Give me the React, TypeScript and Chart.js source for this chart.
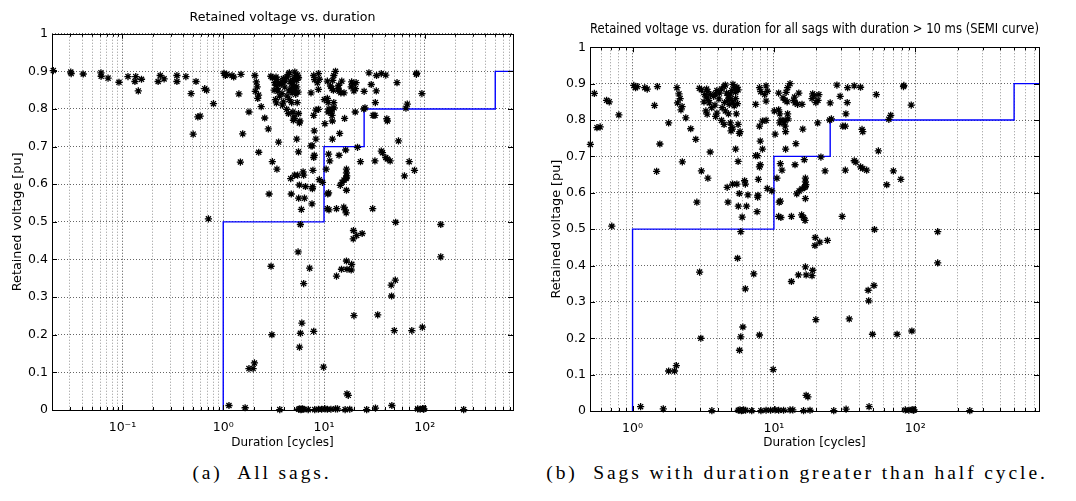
import React, { useEffect, useRef } from 'react';
import { Chart, registerables } from 'chart.js';

Chart.register(...registerables);

// Sag durations (cycles) and retained voltages (pu)
const DURATIONS = [
  0.0206, 0.0307, 0.031, 0.0408, 0.0612, 0.0615, 0.072, 0.0924, 0.1135, 0.1355,
  0.133, 0.1436, 0.1545, 0.226, 0.237, 0.259, 0.347, 0.347, 0.426, 0.48,
  0.537, 0.655, 0.684, 0.8, 0.56, 0.59, 0.503, 0.713, 1.02, 1.05,
  1.08, 1.22, 1.27, 1.5, 1.43, 1.8, 1.56, 1.48, 2.06, 2.13,
  2.17, 2.08, 2.24, 2.2, 2.38, 2.58, 2.8, 2.25, 3.07, 3.41,
  3.54,
  2.97, 3.07, 3.34, 3.41, 3.24, 3.34, 3.56, 3.45, 3.2, 3.49,
  3.75, 3.87, 3.95, 4.12, 4.26, 4.44, 4.53, 4.63, 4.77, 4.92,
  5.03, 5.13, 5.24, 5.36, 5.47, 5.58, 4.97, 4.72, 4.48, 4.83,
  5.13, 5.36, 5.24, 5.52, 4.08, 3.83, 3.63, 3.3, 3.37, 3.95,
  3.87, 4.77, 5.42, 4.3, 4.53,
  4.26, 4.44, 4.92, 5.03, 4.97, 5.08, 5.58, 5.76, 5.7, 5.36,
  5.58, 4.67, 5.1, 5.47, 6.2, 6.28,
  7.43, 7.91, 8.07, 8.8, 8.98, 8.6, 8.8, 8.3, 8.8, 7.9,
  8.0, 8.3, 7.43, 7.65, 8.0, 7.9, 7.76, 8.98,
  13.0, 12.5, 12.2, 10.8, 11.6, 12.0, 12.4, 14.0, 13.8, 14.1,
  15.0, 14.7, 15.8, 18.8, 19.2, 18.6, 20.8, 19.8, 20.5, 25.0,
  27.9, 29.4, 33.2, 37.0, 41.0, 33.0, 32.3, 53.0, 82.5, 83.0,
  93.6, 10.07, 10.8, 11.0, 12.5, 11.2, 11.0, 12.0, 11.8, 12.6,
  12.0, 12.1, 10.2, 16.0, 20.4, 24.8, 25.5, 30.7, 32.0, 42.0,
  42.5, 14.3, 12.1, 16.4, 21.5, 23.0, 14.1, 11.1, 11.4, 10.5,
  37.0, 38.0, 41.0, 42.5, 45.3, 32.0, 54.8, 70.0, 67.0, 65.0,
  79.0, 62.8, 16.7, 16.7, 16.8, 16.5,
  6.55, 7.67, 2.85, 4.73, 5.6, 6.4, 7.6, 5.96, 5.83, 5.53,
  2.98, 7.2, 6.28, 5.69, 7.7,
  9.66, 14.5, 15.1, 15.8, 16.7, 16.7, 11.1, 10.9, 10.8, 11.2,
  13.3, 15.7, 16.2, 16.6, 30.4, 51.4, 144, 19.6, 21.1, 19.5,
  23.9, 16.7, 14.9, 16.9, 18.6, 18.8, 13.3, 51.0, 46.4, 46.8,
  144,
  19.8, 34.1, 49.8, 74.3, 94.6, 6.03, 5.83, 5.71, 7.9, 3.04,
  1.8, 1.98, 2.04, 9.88, 16.9, 17.4, 1.14, 1.65, 3.64,
  5.6, 5.75, 5.9, 6.0, 6.1, 6.3, 6.97, 8.09, 8.8, 9.47,
  10.2, 10.8, 11.7, 13.0, 13.6, 16.2, 18.0, 26.5, 32.4, 47.1,
  85, 90, 95, 97, 98, 243,
];

const VOLTAGES = [
  0.902, 0.898, 0.894, 0.893, 0.896, 0.887, 0.882, 0.871, 0.886, 0.886,
  0.873, 0.848, 0.879, 0.873, 0.889, 0.88, 0.889, 0.873, 0.886, 0.841,
  0.873, 0.854, 0.85, 0.814, 0.779, 0.781, 0.733, 0.508, 0.895, 0.889,
  0.892, 0.889, 0.885, 0.892, 0.84, 0.792, 0.734, 0.659, 0.889, 0.872,
  0.859, 0.847, 0.837, 0.828, 0.806, 0.776, 0.747, 0.685, 0.66, 0.64,
  0.712,
  0.887, 0.883, 0.885, 0.878, 0.87, 0.863, 0.87, 0.854, 0.85, 0.847,
  0.865, 0.872, 0.881, 0.874, 0.885, 0.892, 0.896, 0.874, 0.867, 0.872,
  0.881, 0.898, 0.889, 0.876, 0.89, 0.883, 0.859, 0.854, 0.848, 0.843,
  0.85, 0.859, 0.839, 0.845, 0.858, 0.841, 0.834, 0.825, 0.816, 0.819,
  0.81, 0.817, 0.817, 0.834, 0.825,
  0.799, 0.788, 0.792, 0.779, 0.77, 0.775, 0.788, 0.768, 0.763, 0.72,
  0.686, 0.615, 0.624, 0.624, 0.633, 0.624,
  0.843, 0.889, 0.878, 0.894, 0.879, 0.87, 0.852, 0.797, 0.799, 0.783,
  0.742, 0.72, 0.702, 0.702, 0.677, 0.671, 0.637, 0.612,
  0.9, 0.889, 0.876, 0.874, 0.861, 0.854, 0.85, 0.863, 0.854, 0.847,
  0.874, 0.843, 0.843, 0.872, 0.867, 0.859, 0.87, 0.848, 0.854, 0.847,
  0.896, 0.865, 0.889, 0.894, 0.89, 0.848, 0.817, 0.87, 0.892, 0.895,
  0.841, 0.825, 0.828, 0.817, 0.817, 0.8, 0.792, 0.8, 0.792, 0.803,
  0.783, 0.768, 0.761, 0.775, 0.792, 0.8, 0.803, 0.783, 0.783, 0.774,
  0.768, 0.735, 0.72, 0.691, 0.698, 0.66, 0.677, 0.68, 0.662, 0.64,
  0.688, 0.684, 0.671, 0.667, 0.662, 0.662, 0.715, 0.66, 0.813, 0.802,
  0.637, 0.622, 0.64, 0.63, 0.622, 0.615,
  0.594, 0.588, 0.574, 0.574, 0.563, 0.563, 0.548, 0.533, 0.493, 0.42,
  0.382, 0.377, 0.336, 0.598, 0.593,
  0.605, 0.597, 0.605, 0.611, 0.617, 0.584, 0.577, 0.574, 0.535, 0.532,
  0.535, 0.539, 0.532, 0.524, 0.535, 0.499, 0.493, 0.477, 0.464, 0.455,
  0.469, 0.396, 0.374, 0.374, 0.372, 0.387, 0.356, 0.345, 0.332, 0.303,
  0.407,
  0.251, 0.253, 0.211, 0.211, 0.22, 0.231, 0.204, 0.167, 0.209, 0.2,
  0.11, 0.11, 0.125, 0.114, 0.043, 0.039, 0.012, 0.006, 0.001,
  0.002, 0.003, 0.001, 0.002, 0.003, 0.002, 0.001, 0.001, 0.002, 0.002,
  0.003, 0.002, 0.002, 0.003, 0.003, 0.001, 0.002, 0.001, 0.005, 0.012,
  0.003, 0.002, 0.004, 0.002, 0.003, 0.001,
];

// SEMI curve breakpoints (cycles) and levels (pu)
const SEMI_DURATIONS = [1, 10, 25, 500, 750];
const SEMI_VOLTAGES = [0, 0.5, 0.7, 0.8, 0.9];

// axis ticks
const X_MAJOR = [0.1, 1, 10, 100];
const X_MAJOR_LABELS = ['10\u207B\u00B9', '10\u2070', '10\u00B9', '10\u00B2'];
const Y_TICK_LABELS = ['0', '0.1', '0.2', '0.3', '0.4', '0.5', '0.6', '0.7', '0.8', '0.9', '1'];

const TITLE_A = 'Retained voltage vs. duration';
const TITLE_B = 'Retained voltage vs. duration for all sags with duration > 10 ms (SEMI curve)';
const X_TITLE = 'Duration [cycles]';
const Y_TITLE = 'Retained voltage [pu]';
const CAPTION_A = '(a)  All sags.';
const CAPTION_B = '(b)  Sags with duration greater than half cycle.';

const FONT = "'DejaVu Sans', 'Liberation Sans', sans-serif";

function isMajor(v: number) {
  const l = Math.log10(v);
  return Math.abs(l - Math.round(l)) < 1e-6;
}

function logTickValues(min: number, max: number) {
  const out: number[] = [];
  for (let e = -3; e <= 3; e++) {
    for (let m = 1; m <= 9; m++) {
      const v = Number((m * Math.pow(10, e)).toPrecision(6));
      if (v > min * 1.0001 && v < max * 0.9999) out.push(v);
    }
  }
  return out;
}

const frameTicks = {
  id: 'frameTicks',
  afterDraw(chart: any) {
    const { ctx, chartArea: a, scales } = chart;
    const xs = scales.x;
    const ys = scales.y;
    ctx.save();
    ctx.strokeStyle = '#000';
    ctx.lineWidth = 1;
    ctx.beginPath();
    xs.ticks.forEach((t: any) => {
      const px = Math.round(xs.getPixelForValue(t.value)) + 0.5;
      const len = isMajor(t.value) ? 5 : 3;
      ctx.moveTo(px, a.bottom);
      ctx.lineTo(px, a.bottom - len);
      ctx.moveTo(px, a.top);
      ctx.lineTo(px, a.top + len);
    });
    ys.ticks.forEach((t: any) => {
      const py = Math.round(ys.getPixelForValue(t.value)) + 0.5;
      ctx.moveTo(a.left, py);
      ctx.lineTo(a.left + 5, py);
      ctx.moveTo(a.right, py);
      ctx.lineTo(a.right - 5, py);
    });
    ctx.stroke();
    ctx.strokeRect(Math.round(a.left) + 0.5, Math.round(a.top) + 0.5,
      Math.round(a.right - a.left), Math.round(a.bottom - a.top));
    ctx.restore();
  },
};

interface Panel {
  title: string;
  titleSize: number;
  xMin: number;
  xMax: number;
  yWidth: number;
  yTitlePad: number;
  padRight: number;
  padBottom: number;
  xHeight: number;
  titleTop: number;
  titleBottom: number;
}

const PANEL_A: Panel = {
  title: TITLE_A, titleSize: 12.6, xMin: 0.02, xMax: 750, yWidth: 52, yTitlePad: 10,
  padRight: 23, padBottom: 10, xHeight: 40, titleTop: 10.4, titleBottom: 8.2,
};
const PANEL_B: Panel = {
  title: TITLE_B, titleSize: 13.3, xMin: 0.5, xMax: 750, yWidth: 54, yTitlePad: 12.5,
  padRight: 37, padBottom: 10, xHeight: 39, titleTop: 22, titleBottom: 9.3,
};

function buildChart(canvas: HTMLCanvasElement, p: Panel) {
  const pts = DURATIONS.map((d, i) => ({ x: d, y: VOLTAGES[i] })).filter((pt) => pt.x >= p.xMin);
  const semi = SEMI_DURATIONS.map((d, i) => ({ x: d, y: SEMI_VOLTAGES[i] }));
  const tickVals = logTickValues(p.xMin, p.xMax);
  const gridColor = (c: any) => (c.tick && isMajor(c.tick.value) ? 'rgba(0,0,0,0.7)' : 'rgba(0,0,0,0.42)');
  return new Chart(canvas, {
    type: 'scatter',
    data: {
      datasets: [
        {
          label: 'Sags',
          data: pts,
          pointStyle: 'star',
          pointRadius: 3.6,
          pointHoverRadius: 3.6,
          pointBorderColor: '#000',
          pointBackgroundColor: '#000',
          pointBorderWidth: 1.3,
          showLine: false,
          clip: false,
        } as any,
        {
          label: 'SEMI curve',
          type: 'line',
          data: semi,
          borderColor: '#0000ff',
          borderWidth: 1.4,
          pointRadius: 0,
          stepped: 'after',
          fill: false,
        } as any,
      ],
    },
    options: {
      animation: false,
      responsive: true,
      maintainAspectRatio: false,
      events: [],
      layout: { padding: { left: 0, right: p.padRight, top: 0, bottom: p.padBottom } },
      plugins: {
        legend: { display: false },
        tooltip: { enabled: false },
        title: {
          display: true,
          text: p.title,
          fullSize: false,
          color: '#000',
          font: { family: FONT, size: p.titleSize, weight: 'normal', lineHeight: 1.2 },
          padding: { top: p.titleTop, bottom: p.titleBottom },
        },
      },
      scales: {
        x: {
          type: 'logarithmic',
          min: p.xMin,
          max: p.xMax,
          afterBuildTicks: (s: any) => {
            s.ticks = tickVals.map((v) => ({ value: v }));
          },
          afterFit: (s: any) => {
            s.height = p.xHeight;
          },
          ticks: {
            autoSkip: false,
            maxRotation: 0,
            padding: 10,
            color: '#000',
            font: { family: FONT, size: 12.5 },
            callback: (v: any) => {
              const i = X_MAJOR.findIndex((m) => Math.abs(Math.log10(Number(v)) - Math.log10(m)) < 1e-6);
              return i >= 0 ? X_MAJOR_LABELS[i] : '';
            },
          },
          grid: { color: gridColor, lineWidth: 1, drawTicks: false },
          border: { display: false, dash: [1, 2] },
          title: {
            display: true,
            text: X_TITLE,
            color: '#000',
            font: { family: FONT, size: 12 },
            padding: { top: 0, bottom: 0 },
          },
        } as any,
        y: {
          type: 'linear',
          min: 0,
          max: 1,
          afterFit: (s: any) => {
            s.width = p.yWidth;
          },
          ticks: {
            stepSize: 0.1,
            padding: 4,
            color: '#000',
            font: { family: FONT, size: 12.5 },
            callback: (v: any) => Y_TICK_LABELS[Math.round(Number(v) * 10)],
          },
          grid: { color: 'rgba(0,0,0,0.6)', lineWidth: 1, drawTicks: false },
          border: { display: false, dash: [1, 2] },
          title: {
            display: true,
            text: Y_TITLE,
            color: '#000',
            font: { family: FONT, size: 12.8 },
            padding: { top: p.yTitlePad, bottom: 0 },
          },
        } as any,
      },
    },
    plugins: [frameTicks],
  });
}

export default function App() {
  const ref1 = useRef<HTMLCanvasElement>(null);
  const ref2 = useRef<HTMLCanvasElement>(null);
  useEffect(() => {
    const c1 = buildChart(ref1.current as HTMLCanvasElement, PANEL_A);
    const c2 = buildChart(ref2.current as HTMLCanvasElement, PANEL_B);
    return () => {
      c1.destroy();
      c2.destroy();
    };
  }, []);
  const capStyle: React.CSSProperties = {
    position: 'absolute',
    top: 461,
    height: 24,
    lineHeight: '24px',
    textAlign: 'center',
    fontFamily: "'Liberation Serif', 'Times New Roman', serif",
    fontSize: 19.5,
    letterSpacing: '2.9px',
    color: '#000',
    whiteSpace: 'pre',
  };
  return (
    <div style={{ position: 'absolute', left: 0, top: 0, width: 1076, height: 501, background: '#fff', overflow: 'hidden' }}>
      <div style={{ position: 'absolute', left: 0, top: 0, width: 536, height: 460 }}>
        <canvas ref={ref1} />
      </div>
      <div style={{ position: 'absolute', left: 536, top: 0, width: 540, height: 460 }}>
        <canvas ref={ref2} />
      </div>
      <div style={{ ...capStyle, left: 112, width: 300 }}>{CAPTION_A}</div>
      <div style={{ ...capStyle, left: 537, width: 520 }}>{CAPTION_B}</div>
    </div>
  );
}
